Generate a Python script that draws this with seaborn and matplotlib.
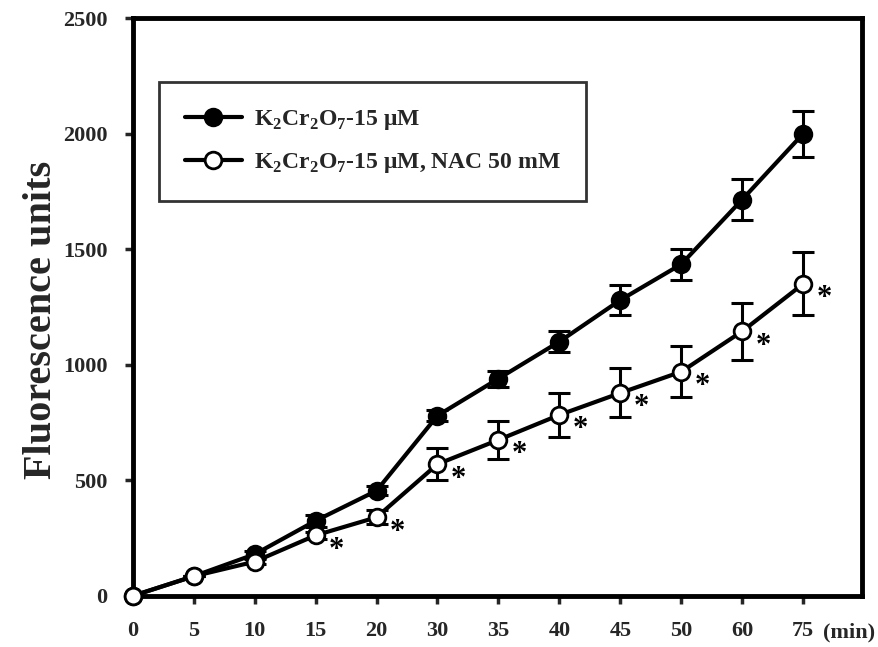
import numpy as np
import pandas as pd
import matplotlib
matplotlib.use("Agg")
import matplotlib.pyplot as plt
import seaborn as sns
from matplotlib.lines import Line2D

# data
times = ["0", "5", "10", "15", "20", "30", "35", "40", "45", "50", "60", "75"]
cr_mean = [0, 85, 180, 325, 455, 780, 940, 1100, 1280, 1435, 1715, 2000]
cr_err = [0, 0, 15, 25, 20, 25, 35, 45, 65, 67, 87, 100]
nac_mean = [0, 85, 148, 262, 340, 570, 675, 783, 878, 970, 1145, 1350]
nac_err = [0, 0, 10, 15, 30, 70, 82, 95, 106, 110, 123, 136]
star_times = ["15", "20", "30", "35", "40", "45", "50", "60", "75"]

label_cr = r"K$_\mathrm{2}$Cr$_\mathrm{2}$O$_\mathrm{7}$-15 μM"
label_nac = r"K$_\mathrm{2}$Cr$_\mathrm{2}$O$_\mathrm{7}$-15 μM, NAC 50 mM"

sns.set_style("white")
plt.rcParams["font.family"] = ["Liberation Serif", "DejaVu Serif"]
plt.rcParams["font.weight"] = "bold"
plt.rcParams["mathtext.fontset"] = "custom"
plt.rcParams["mathtext.rm"] = "Liberation Serif:bold"
plt.rcParams["mathtext.bf"] = "Liberation Serif:bold"

pos = np.arange(len(times))
df = pd.DataFrame({
    "pos": np.concatenate([pos, pos]),
    "value": cr_mean + nac_mean,
    "err": cr_err + nac_err,
    "group": [label_cr] * len(times) + [label_nac] * len(times),
})

fig = plt.figure(figsize=(8.79, 6.47), dpi=100)
ax = fig.add_axes([0.151, 0.079, 0.830, 0.893])

for grp in [label_cr, label_nac]:
    sub = df[df["group"] == grp]
    ax.errorbar(sub["pos"], sub["value"], yerr=sub["err"], fmt="none",
                ecolor="black", elinewidth=2.2, capsize=8, capthick=2.2, zorder=2)

sns.lineplot(data=df, x="pos", y="value", style="group", hue="group",
             palette=["black", "black"], markers=["o", "o"], dashes=False,
             linewidth=3, markersize=12, markeredgewidth=2, markeredgecolor="black",
             ax=ax, zorder=3, legend=False)
lines = ax.get_lines()
lines[-1].set_markerfacecolor("white")
lines[-2].set_markerfacecolor("black")
for ln in lines[-2:]:
    ln.set_clip_on(False)
    ln.set_zorder(5)

# significance asterisks
for t in star_times:
    i = times.index(t)
    ax.text(i + 0.34, nac_mean[i] - 65, "*", fontsize=22, fontweight="bold",
            ha="center", va="center", color="black")

ax.set_xlim(0, 11.97)
ax.set_ylim(0, 2500)
ax.set_xticks(pos)
ax.set_xticklabels(times)
ax.set_yticks([0, 500, 1000, 1500, 2000, 2500])
ax.tick_params(axis="both", direction="out", length=6, width=2.5,
               labelsize=16, pad=12, bottom=True, left=True)
for lab in ax.get_xticklabels() + ax.get_yticklabels():
    lab.set_fontweight("bold")
for sp in ax.spines.values():
    sp.set_linewidth(3.5)
    sp.set_color("black")

ax.set_xlabel("")
ax.set_ylabel("Fluorescence units", fontsize=29, fontweight="bold")
ax.yaxis.set_label_coords(-0.10, 0.477)
ax.text(0.982, -0.063, "(min)", transform=ax.transAxes, fontsize=16,
        fontweight="bold", ha="center", va="center")

handles = [
    Line2D([], [], color="black", lw=3, marker="o", markersize=12,
           markerfacecolor="black", markeredgecolor="black", markeredgewidth=2),
    Line2D([], [], color="black", lw=3, marker="o", markersize=12,
           markerfacecolor="white", markeredgecolor="black", markeredgewidth=2),
]
leg = ax.legend(handles, [label_cr, label_nac], loc="upper left",
                bbox_to_anchor=(0.02, 0.91), fontsize=17, frameon=True,
                fancybox=False, edgecolor="black", handlelength=2.4,
                borderpad=1.1, labelspacing=0.8, handletextpad=0.5)
leg.get_frame().set_linewidth(2)
for txt in leg.get_texts():
    txt.set_fontweight("bold")

fig.savefig("out.png", dpi=100)
